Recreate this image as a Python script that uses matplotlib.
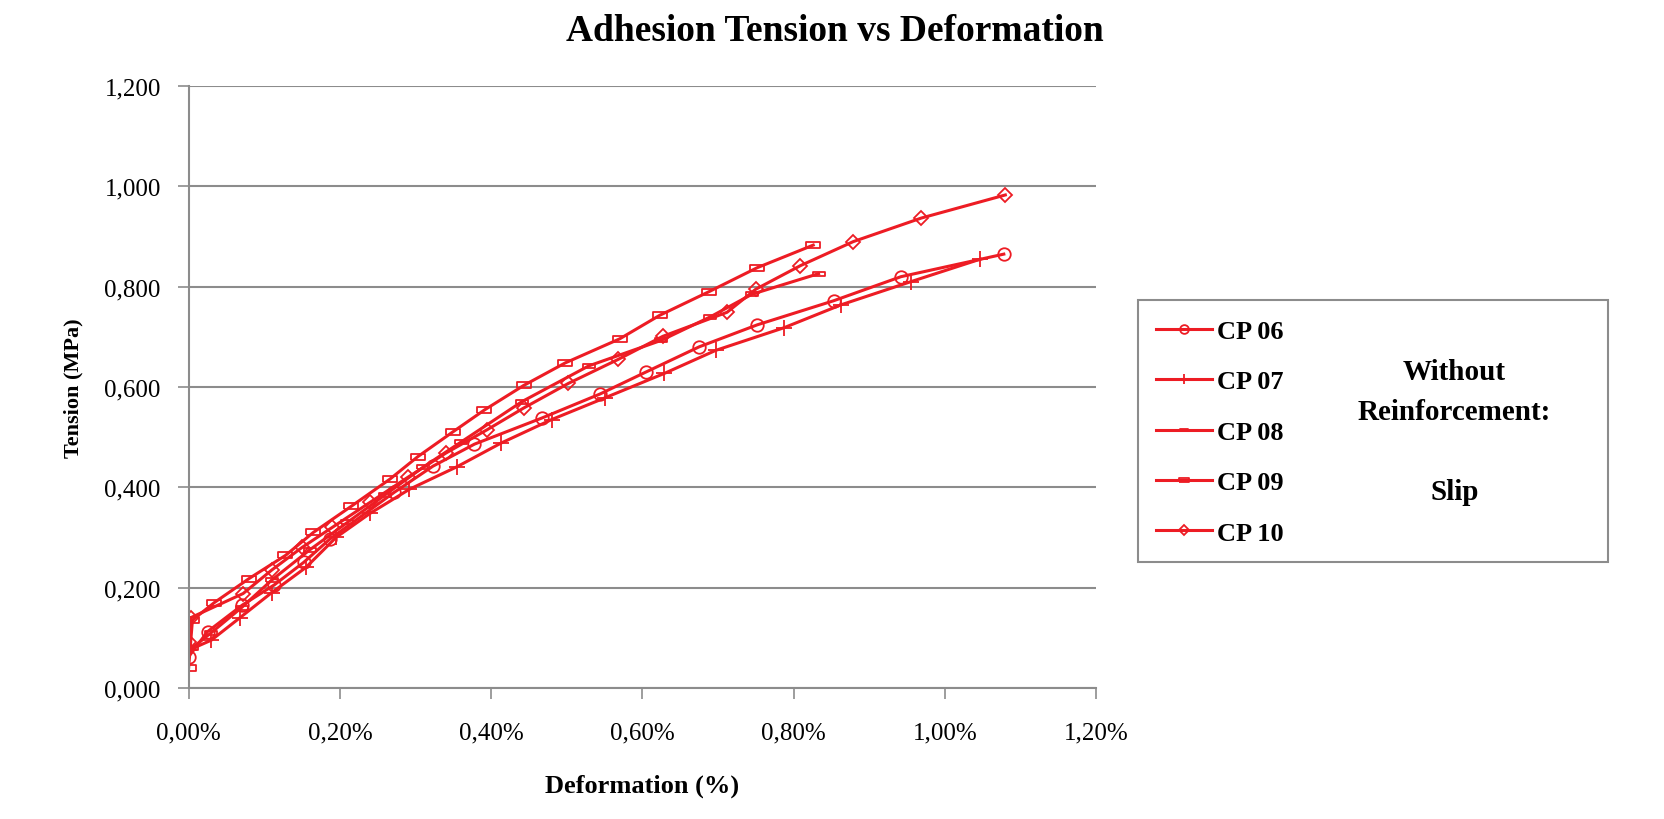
import matplotlib
matplotlib.use('Agg')
import matplotlib.pyplot as plt
from matplotlib.patches import Rectangle
from matplotlib.ticker import FuncFormatter, MultipleLocator

plt.rcParams['font.family'] = ['Liberation Serif', 'DejaVu Serif']

# deformation (%) / tension (MPa)
cp06_x = [0.000, 0.025, 0.071, 0.113, 0.152, 0.187, 0.272, 0.323, 0.378, 0.467, 0.544, 0.605, 0.675, 0.752, 0.853, 0.942, 1.078]
cp06_y = [0.062, 0.112, 0.165, 0.205, 0.250, 0.297, 0.390, 0.442, 0.486, 0.538, 0.586, 0.630, 0.680, 0.724, 0.772, 0.820, 0.865]

cp07_x = [0.000, 0.030, 0.068, 0.110, 0.155, 0.195, 0.240, 0.292, 0.355, 0.413, 0.480, 0.550, 0.629, 0.697, 0.787, 0.863, 0.955, 1.047]
cp07_y = [0.075, 0.095, 0.140, 0.190, 0.240, 0.300, 0.348, 0.396, 0.441, 0.488, 0.535, 0.578, 0.627, 0.673, 0.718, 0.764, 0.810, 0.855]

cp08_x = [0.005, 0.030, 0.070, 0.110, 0.160, 0.210, 0.260, 0.310, 0.360, 0.441, 0.529, 0.625, 0.690, 0.745, 0.833]
cp08_y = [0.080, 0.110, 0.160, 0.215, 0.275, 0.330, 0.385, 0.440, 0.490, 0.571, 0.642, 0.693, 0.740, 0.785, 0.826]

cp09_x = [0.000, 0.005, 0.034, 0.080, 0.128, 0.165, 0.215, 0.266, 0.303, 0.349, 0.391, 0.443, 0.498, 0.570, 0.623, 0.688, 0.752, 0.826]
cp09_y = [0.040, 0.135, 0.170, 0.218, 0.264, 0.310, 0.362, 0.416, 0.461, 0.510, 0.554, 0.603, 0.648, 0.696, 0.743, 0.790, 0.838, 0.883]

cp10_x = [0.000, 0.003, 0.072, 0.110, 0.150, 0.190, 0.240, 0.290, 0.340, 0.395, 0.443, 0.502, 0.568, 0.627, 0.712, 0.750, 0.809, 0.879, 0.969, 1.080]
cp10_y = [0.092, 0.140, 0.188, 0.235, 0.280, 0.320, 0.370, 0.420, 0.468, 0.515, 0.558, 0.607, 0.655, 0.701, 0.749, 0.795, 0.842, 0.890, 0.937, 0.983]

labels = ['CP 06', 'CP 07', 'CP 08', 'CP 09', 'CP 10']

RED = '#ed1c24'
thin_rect = [(-1, -0.3), (1, -0.3), (1, 0.3), (-1, 0.3), (-1, -0.3)]
thick_rect = [(-1, -0.45), (1, -0.45), (1, 0.45), (-1, 0.45), (-1, -0.45)]

fig = plt.figure(figsize=(16.65, 8.2), dpi=100)
ax = fig.add_axes([0.1133, 0.16, 0.545, 0.7337])

series = [
    (cp06_x, cp06_y, 'o', 9),
    (cp07_x, cp07_y, '+', 11),
    (cp08_x, cp08_y, thin_rect, 9),
    (cp09_x, cp09_y, thick_rect, 10),
    (cp10_x, cp10_y, 'D', 7.5),
]
for (xs, ys, mk, ms), lab in zip(series, labels):
    ax.plot([v / 100 for v in xs], ys, color=RED, lw=2.2, marker=mk, ms=ms,
            mfc='none', mec=RED, mew=1.3, label=lab)

ax.set_xlim(0, 0.012)
ax.set_ylim(0, 1.2)
ax.xaxis.set_major_locator(MultipleLocator(0.002))
ax.yaxis.set_major_locator(MultipleLocator(0.2))
ax.xaxis.set_major_formatter(FuncFormatter(lambda v, p: ('%.2f%%' % (v * 100)).replace('.', ',')))
ax.yaxis.set_major_formatter(FuncFormatter(lambda v, p: ('%.3f' % v).replace('.', ',')))
ax.tick_params(axis='x', direction='out', length=8, width=1.2, color='#8c8c8c', pad=16, labelsize=18)
ax.tick_params(axis='y', direction='out', length=8, width=1.2, color='#8c8c8c', pad=12, labelsize=18)

ax.grid(axis='y', color='#8c8c8c', lw=1.5)
ax.set_axisbelow(True)
for s in ['top', 'right']:
    ax.spines[s].set_visible(False)
for s in ['left', 'bottom']:
    ax.spines[s].set_color('#8c8c8c')
    ax.spines[s].set_linewidth(1.5)

ax.set_xlabel('Deformation (%)', fontsize=19, fontweight='bold', labelpad=22)
ax.set_ylabel('Tension (MPa)', fontsize=16, fontweight='bold', labelpad=15)
fig.text(0.5015, 0.962, 'Adhesion Tension vs Deformation', ha='center', va='center',
         fontsize=27, fontweight='bold')

# legend box with the note inside
fig.patches.append(Rectangle((0.6837, 0.3136), 0.282, 0.3195, transform=fig.transFigure,
                             fill=False, edgecolor='#8c8c8c', lw=1.5))
fig.legend(loc='upper left', bbox_to_anchor=(0.6944, 0.609), frameon=False,
           prop={'size': 19, 'weight': 'bold'}, handlelength=2.1, handletextpad=0.2,
           labelspacing=1.02, markerscale=0.7, borderaxespad=0, borderpad=0)
fig.text(0.8735, 0.4726, 'Without\nReinforcement:\n\nSlip', ha='center', va='center',
         fontsize=21, fontweight='bold', linespacing=1.62)

fig.savefig('out.png', dpi=100)
